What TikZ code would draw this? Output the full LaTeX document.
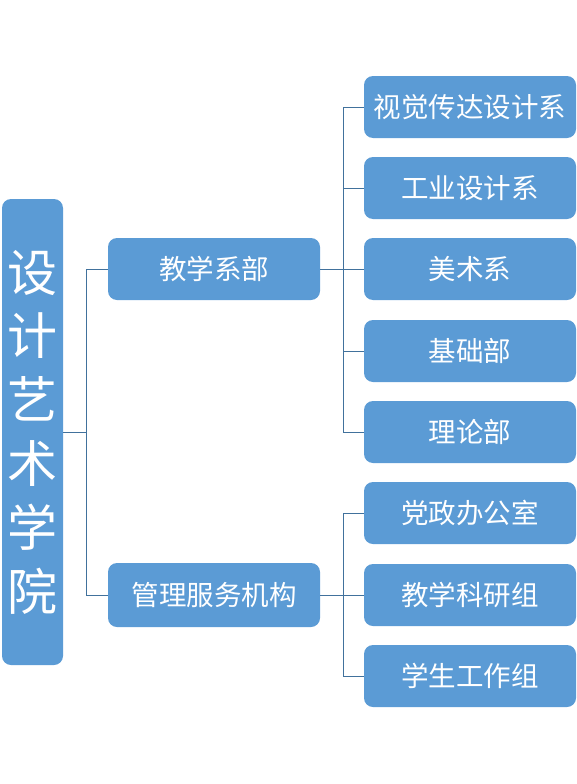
\documentclass[tikz,border=0pt]{standalone}
\usepackage{fontspec}
\setmainfont{Noto Sans CJK SC}
\definecolor{boxblue}{HTML}{5B9BD5}
\definecolor{lineblue}{HTML}{41719C}
\tikzset{
    box/.style={rounded corners=9pt, fill=boxblue, text=white, inner sep=0pt,
        font=\fontsize{27.5}{32}\selectfont},
    unit/.style={box, minimum width=212pt, minimum height=62pt},
    link/.style={draw=lineblue, line width=1pt}
}

\begin{document}
\begin{tikzpicture}[x=1pt,y=-1pt]

\useasboundingbox (0,0) rectangle (577,784);

% College (vertical title)
\node[box, minimum width=61pt, minimum height=466pt, align=center,
    font=\fontsize{50}{63.8}\selectfont] (college) at (32.5,432)
    {设\\计\\艺\\术\\学\\院};

% Second level
\node[unit] (teach) at (214,269) {教学系部};
\node[unit, minimum height=64pt] (admin) at (214,595) {管理服务机构};

% Third level
\node[unit] (visual) at (470,107) {视觉传达设计系};
\node[unit] (industrial) at (470,188) {工业设计系};
\node[unit] (fineart) at (470,269) {美术系};
\node[unit] (basic) at (470,351) {基础部};
\node[unit] (theory) at (470,432) {理论部};
\node[unit] (office) at (470,513) {党政办公室};
\node[unit] (research) at (470,595) {教学科研组};
\node[unit] (student) at (470,676) {学生工作组};

% Connectors
\draw[link] (college.east) -- ++(23,0) coordinate (busL);
\draw[link] (busL) |- (teach.west);
\draw[link] (busL) |- (admin.west);

\draw[link] (teach.east) -- ++(23,0) coordinate (busT);
\foreach \n in {visual,industrial,fineart,basic,theory}
    \draw[link] (busT) |- (\n.west);

\draw[link] (admin.east) -- ++(23,0) coordinate (busA);
\foreach \n in {office,research,student}
    \draw[link] (busA) |- (\n.west);

\end{tikzpicture}
\end{document}
